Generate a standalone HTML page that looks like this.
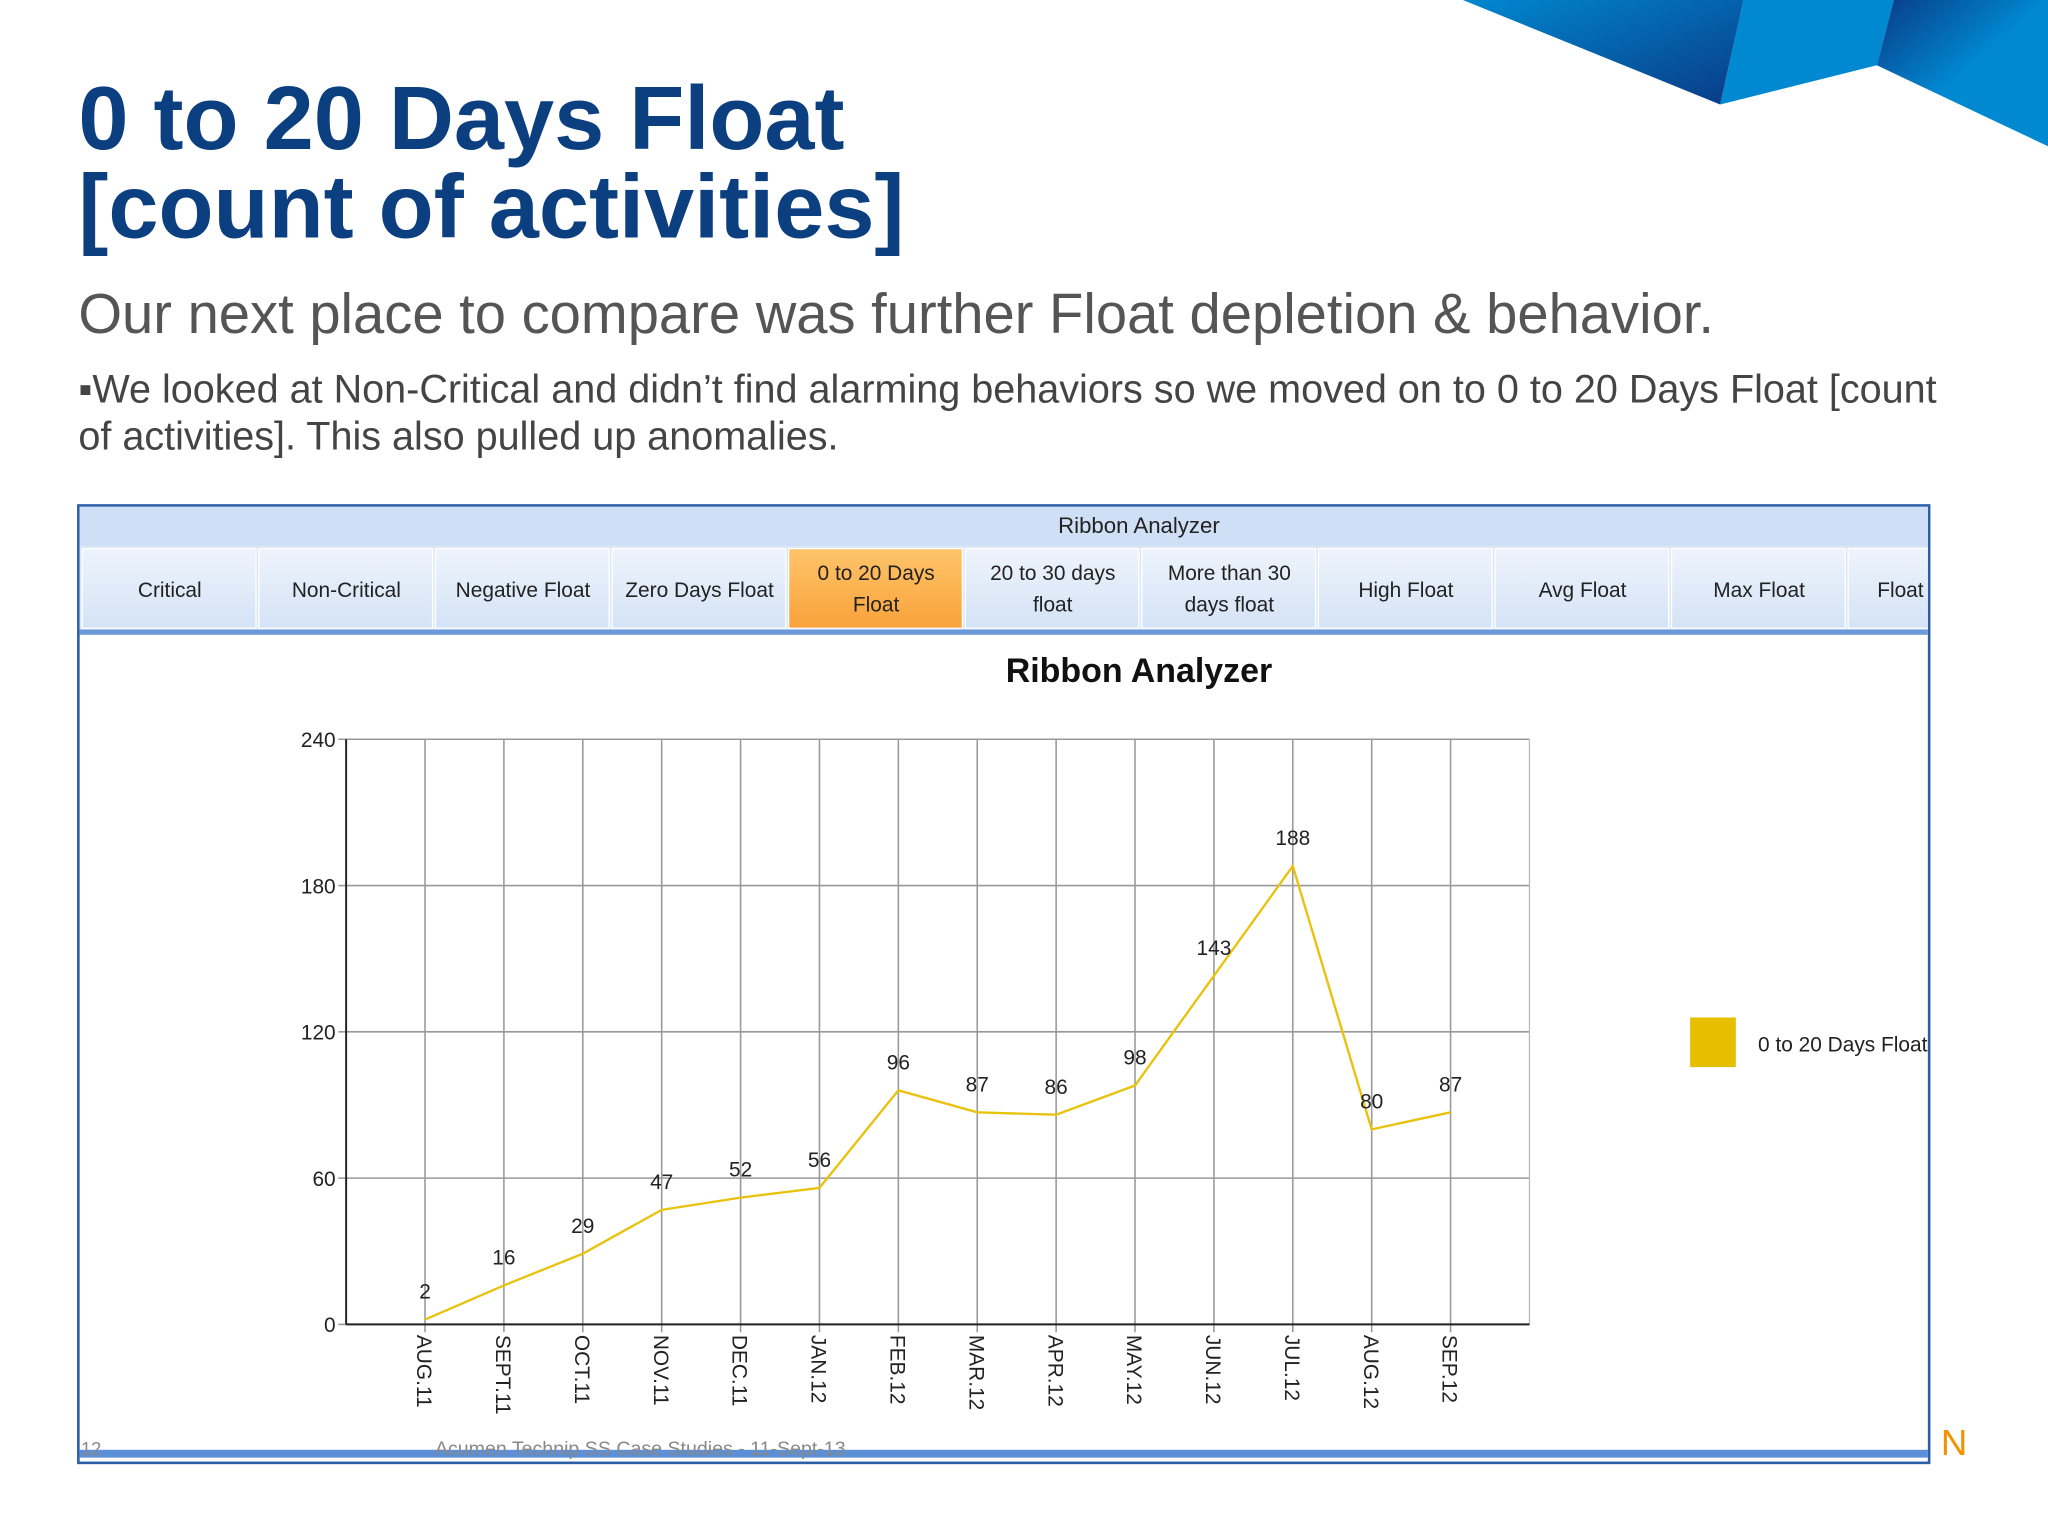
<!DOCTYPE html>
<html><head><meta charset="utf-8"><style>html,body{margin:0;padding:0;background:#fff}svg{display:block}</style></head>
<body>
<svg width="2048" height="1536" viewBox="0 0 1568 1176" xmlns="http://www.w3.org/2000/svg" font-family="Liberation Sans, sans-serif">
<defs>
<linearGradient id="g1" x1="0" y1="0" x2="1" y2="1"><stop offset="0" stop-color="#0088d0"/><stop offset="1" stop-color="#0a3a86"/></linearGradient>
<linearGradient id="g2" x1="0" y1="0" x2="1" y2="1"><stop offset="0" stop-color="#0a3a86"/><stop offset="0.5" stop-color="#0088d0"/></linearGradient>
<linearGradient id="tab" x1="0" y1="0" x2="0" y2="1"><stop offset="0" stop-color="#eef4fc"/><stop offset="1" stop-color="#d4e3f6"/></linearGradient>
<linearGradient id="sel" x1="0" y1="0" x2="0" y2="1"><stop offset="0" stop-color="#ffc46a"/><stop offset="1" stop-color="#f9a23a"/></linearGradient>
<clipPath id="panelclip"><rect x="61" y="388" width="1415" height="100"/></clipPath>
</defs>
<g>
<polygon points="1120,0 1317,80 1335,0" fill="url(#g1)"/>
<polygon points="1335,0 1317,80 1437,50 1450,0" fill="#0088d0"/>
<polygon points="1450,0 1437,50 1568,112 1568,0" fill="url(#g2)"/>
</g>
<text x="60" y="114" font-size="69" font-weight="bold" fill="#0b3f7f">0 to 20 Days Float</text>
<text x="60" y="182" font-size="69" font-weight="bold" fill="#0b3f7f">[count of activities]</text>
<text x="60" y="255" font-size="43" fill="#555">Our next place to compare was further Float depletion &amp; behavior.</text>
<text x="60" y="308" font-size="30.3" fill="#444">▪We looked at Non-Critical and didn’t find alarming behaviors so we moved on to 0 to 20 Days Float [count</text>
<text x="60" y="344" font-size="30.3" fill="#444">of activities].  This also pulled up anomalies.</text>

<g>
<rect x="60" y="387" width="1417" height="733" fill="#fff" stroke="#2b5fa8" stroke-width="2"/>
<rect x="61" y="388" width="1415" height="30" fill="#cfe0f6"/>
<text x="872" y="408" font-size="17" text-anchor="middle" fill="#222">Ribbon Analyzer</text>
<rect x="61" y="418" width="1415" height="66" fill="#dbe7f7"/>
<g id="tabs" clip-path="url(#panelclip)"></g>
<rect x="61" y="482" width="1415" height="4" fill="#6a9ad8"/>
<rect x="61" y="1110" width="1415" height="6" fill="#5b8fd8"/>
</g>
<text x="872" y="522" font-size="26" font-weight="bold" text-anchor="middle" fill="#111">Ribbon Analyzer</text>
<g id="chart"></g>
<g>
<rect x="1294" y="779" width="35" height="38" fill="#e6c000"/>
<text x="1346" y="805" font-size="16" fill="#222">0 to 20 Days Float</text>
</g>
<text x="62" y="1114" font-size="14" fill="#888">12</text>
<text x="333" y="1114" font-size="15" fill="#888">Acumen Technip SS Case Studies - 11-Sept-13</text>
<text x="1486" y="1114" font-size="28" fill="#f39200">N</text>
</svg>
<script>
const NS='http://www.w3.org/2000/svg';
const tabLabels=[["Critical"],["Non-Critical"],["Negative Float"],["Zero Days Float"],["0 to 20 Days","Float"],["20 to 30 days","float"],["More than 30","days float"],["High Float"],["Avg Float"],["Max Float"],["Float"]];
const categories=["AUG.11","SEPT.11","OCT.11","NOV.11","DEC.11","JAN.12","FEB.12","MAR.12","APR.12","MAY.12","JUN.12","JUL.12","AUG.12","SEP.12"];
const values=[2,16,29,47,52,56,96,87,86,98,143,188,80,87];
const yTicks=[0,60,120,180,240];
function mk(tag,attrs,parent){const e=document.createElementNS(NS,tag);for(const k in attrs)e.setAttribute(k,attrs[k]);parent.appendChild(e);return e;}
const tabs=document.getElementById('tabs');
tabLabels.forEach((lab,i)=>{
  const x=63+i*135.2;const w=133;
  const r=mk('rect',{x:x,y:420,width:w,height:61,fill:i===4?'url(#sel)':'url(#tab)',stroke:'#fff'},tabs);
  
  
  lab.forEach((t,j)=>{
    const tx=mk('text',{x:x+67,y:(lab.length===1?457:444+j*24),'font-size':16,'text-anchor':'middle',fill:'#222'},tabs);
    if(i===10) tx.setAttribute('x', x+40);
    tx.textContent=t;
    
    
  });
});
const ch=document.getElementById('chart');
const X0=265,X1=1171,Y0=1014,Y1=566;
const step=(X1-X0)/(categories.length+1);
const xs=i=>X0+step*(i+1);
const ys=v=>Y0-(v/240)*(Y0-Y1);
yTicks.forEach(t=>{
  const l=mk('line',{x1:X0-6,x2:X1,y1:ys(t),y2:ys(t),stroke:'#999','stroke-width':1.2},ch);
  
  
  const tx=mk('text',{x:X0-8,y:ys(t)+6,'font-size':16,'text-anchor':'end',fill:'#222'},ch);
  tx.textContent=t;
  
  
});
mk('line',{x1:X1,x2:X1,y1:Y1,y2:Y0,stroke:'#bbb'},ch);
categories.forEach((c,i)=>{
  const l=mk('line',{x1:xs(i),x2:xs(i),y1:Y1,y2:Y0+6,stroke:'#999','stroke-width':1.2},ch);
  
  
  const tx=mk('text',{x:0,y:0,'font-size':16,fill:'#222',transform:`translate(${xs(i)-6},${Y0+8}) rotate(90)`},ch);
  tx.textContent=c;
  
  
});
mk('line',{x1:X0,x2:X0,y1:Y1,y2:Y0,stroke:'#222','stroke-width':1.5},ch);
mk('line',{x1:X0,x2:X1,y1:Y0,y2:Y0,stroke:'#222','stroke-width':1.5},ch);
const pl=mk('polyline',{points:values.map((v,i)=>xs(i)+','+ys(v)).join(' '),fill:'none',stroke:'#e8c20c','stroke-width':1.8},ch);


values.forEach((v,i)=>{
  const tx=mk('text',{x:xs(i),y:ys(v)-16,'font-size':16,'text-anchor':'middle',fill:'#222'},ch);
  tx.textContent=v;
  
  
});
</script>
</body></html>
